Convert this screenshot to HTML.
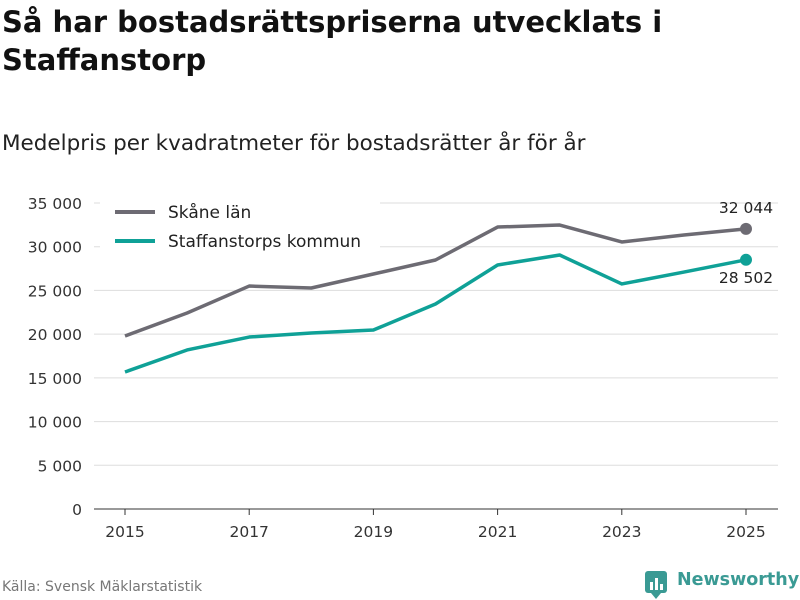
<!DOCTYPE html>
<html><head><meta charset="utf-8"><style>
body{margin:0;width:800px;height:600px;background:#fff;font-family:"DejaVu Sans","Liberation Sans",sans-serif;overflow:hidden}
h1{position:absolute;left:2px;top:3px;margin:0;font-size:29px;line-height:38px;font-weight:bold;color:#111;white-space:nowrap}
.sub{position:absolute;left:2px;top:131px;font-size:21.5px;color:#222;white-space:nowrap}
.src{position:absolute;left:2px;top:579px;font-size:14px;color:#777}
.logo{position:absolute;left:677px;top:570px;font-size:17.5px;font-weight:bold;color:#3a9a94;white-space:nowrap}
.icon{position:absolute;left:645px;top:571px}
</style></head><body>
<h1>Så har bostadsrättspriserna utvecklats i<br>Staffanstorp</h1>
<div class="sub">Medelpris per kvadratmeter för bostadsrätter år för år</div>
<svg id="c" width="800" height="600" style="position:absolute;left:0;top:0"></svg>
<div class="src">Källa: Svensk Mäklarstatistik</div>
<svg class="icon" width="24" height="28"><rect x="0" y="0" width="22" height="22" rx="3" fill="#3a9a94"/><path d="M6 22 L11 28 L16 22Z" fill="#3a9a94"/><rect x="5" y="11" width="3" height="8" fill="#fff"/><rect x="10" y="7" width="3" height="12" fill="#fff"/><rect x="15" y="13" width="3" height="6" fill="#fff"/></svg>
<div class="logo">Newsworthy</div>
<script>
const years=[2015,2016,2017,2018,2019,2020,2021,2022,2023,2024,2025];
const skane=[19790,22420,25500,25280,26880,28480,32250,32480,30540,31340,32044];
const staff=[15670,18190,19670,20130,20470,23450,27910,29050,25740,27100,28502];
const yTicks=[0,5000,10000,15000,20000,25000,30000,35000];
const xTicks=[2015,2017,2019,2021,2023,2025];
const svg=document.getElementById('c');const NS='http://www.w3.org/2000/svg';
const x=v=>125+(v-2015)*(746-125)/10;
const y=v=>509-v*(509-203)/35000;
const fmt=v=>v===0?'0':String(v).replace(/\B(?=(\d{3})+(?!\d))/g,' ');
function el(t,a,p){const e=document.createElementNS(NS,t);for(const k in a)e.setAttribute(k,a[k]);(p||svg).appendChild(e);return e;}
yTicks.forEach(v=>{
 const l=el('line',{x1:94,x2:778,y1:y(v),y2:y(v),stroke:v===0?'#333':'#ddd','stroke-width':1});
 
 
 const t=el('text',{x:82,y:y(v)+6,'text-anchor':'end','font-size':15.5,fill:'#333'});t.textContent=fmt(v);
 
 
});
xTicks.forEach(v=>{
 const l=el('line',{x1:x(v),x2:x(v),y1:509,y2:515,stroke:'#333'});
 
 
 const t=el('text',{x:x(v),y:537,'text-anchor':'middle','font-size':15.5,fill:'#333'});t.textContent=v;
 
 
});
function series(d,c,name){
 const p=el('polyline',{points:d.map((v,i)=>x(years[i])+','+y(v)).join(' '),fill:'none',stroke:c,'stroke-width':3.5,'stroke-linejoin':'round'});
 
 
 const n=d.length-1;
 const ci=el('circle',{cx:x(years[n]),cy:y(d[n]),r:6,fill:c});
 
 
}
series(skane,'#6d6b73','skane');series(staff,'#0fa197','staffanstorp');
let t=el('text',{x:746,y:213,'text-anchor':'middle','font-size':15.5,fill:'#222'});t.textContent=fmt(skane[10]);


t=el('text',{x:746,y:283,'text-anchor':'middle','font-size':15.5,fill:'#222'});t.textContent=fmt(staff[10]);


el('rect',{x:100,y:196,width:280,height:60,fill:'#fff'});
[['Skåne län','#6d6b73',212],['Staffanstorps kommun','#0fa197',241]].forEach(([n,c,yy])=>{
 const l=el('line',{x1:115,x2:155,y1:yy,y2:yy,stroke:c,'stroke-width':4});
 
 
 const tt=el('text',{x:168,y:yy+6,'font-size':17,fill:'#222'});tt.textContent=n;
 
 
});
</script>
</body></html>
